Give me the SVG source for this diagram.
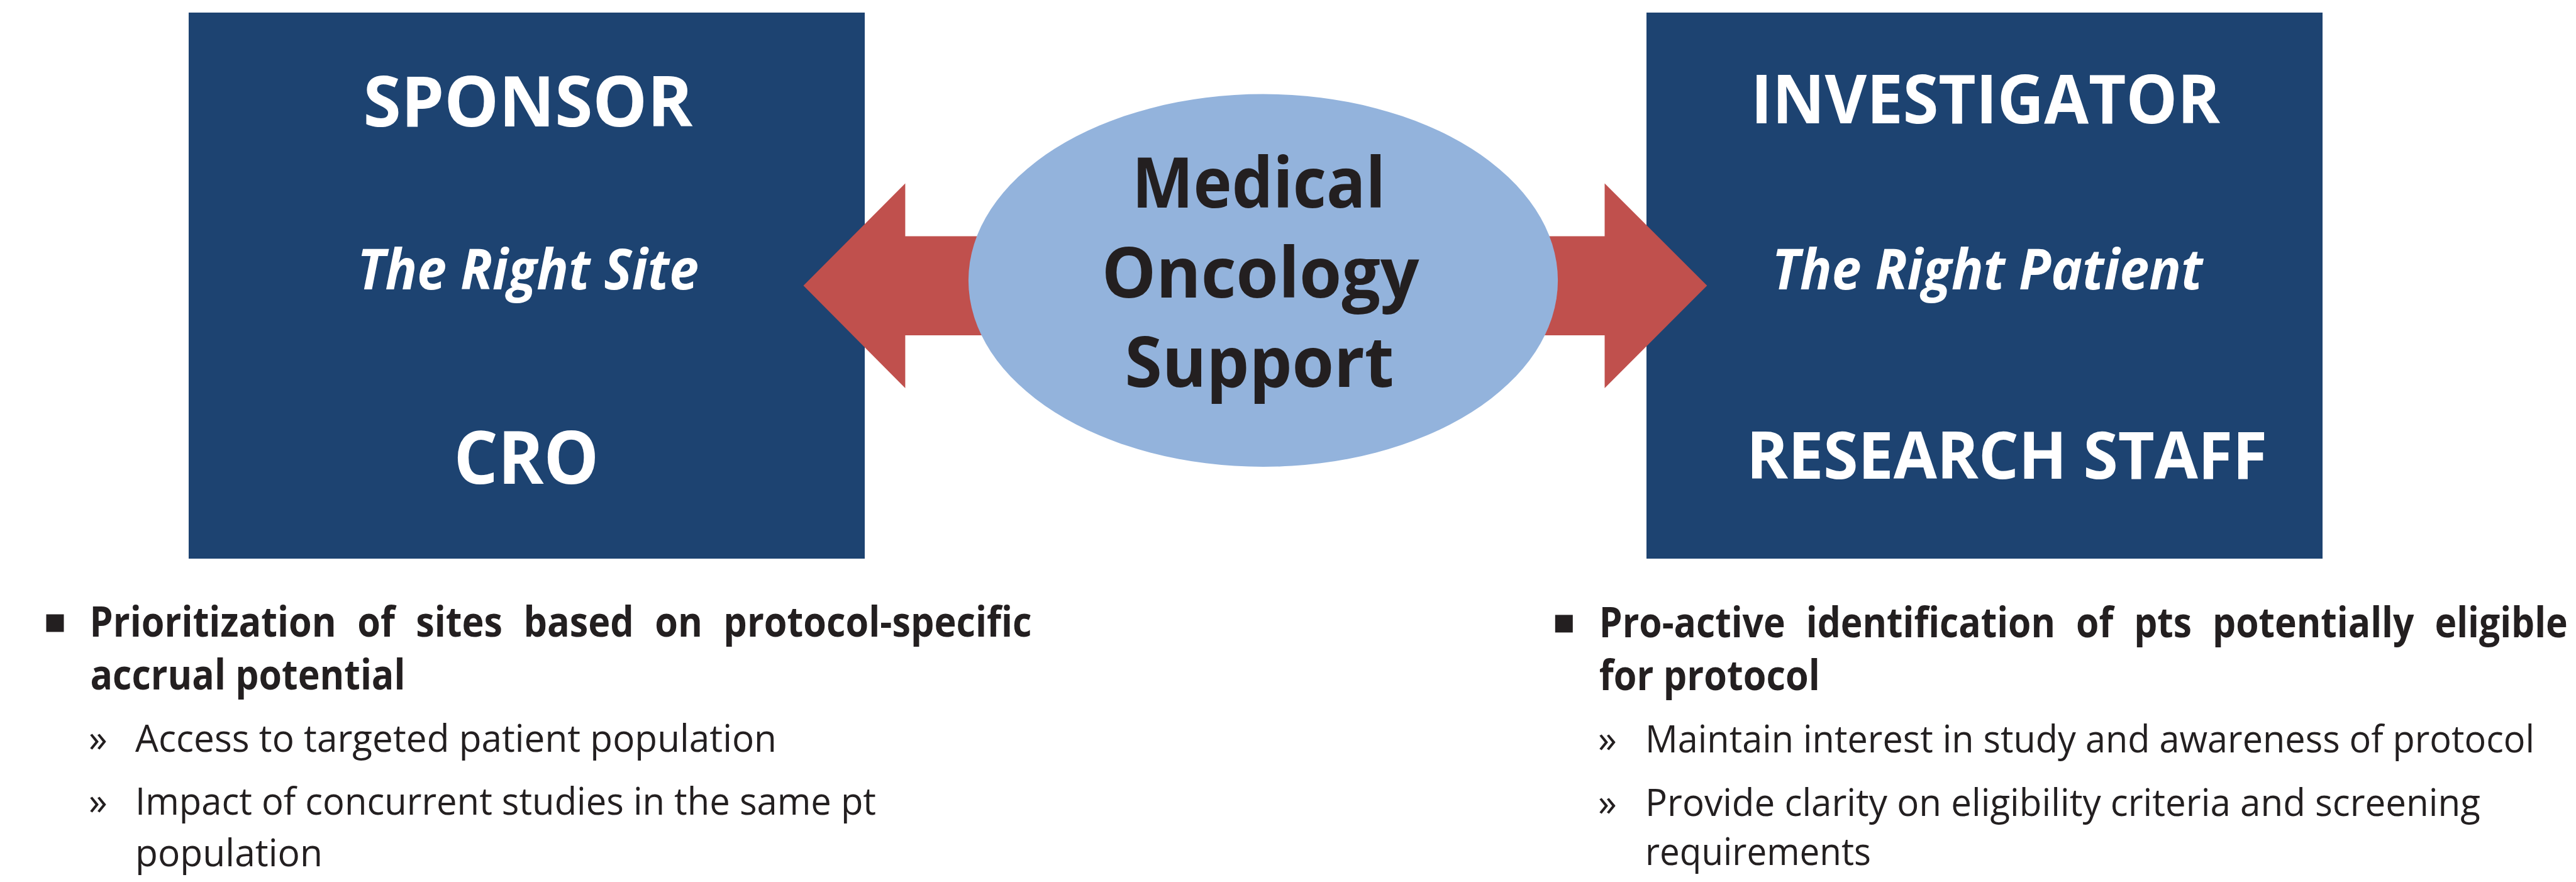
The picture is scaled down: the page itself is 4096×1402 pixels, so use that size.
<svg xmlns="http://www.w3.org/2000/svg" width="4096" height="1402" viewBox="0 0 4096 1402">
  <style>
    .box { fill: #1d4371; }
    .arrow { fill: #c0504d; }
    .hub { fill: #93b3dc; }
    .title { font-family: "Open Sans", "Noto Sans", "Liberation Sans", sans-serif; font-weight: 700; fill: #ffffff; }
    .motto { font-family: "Open Sans", "Noto Sans", "Liberation Sans", sans-serif; font-weight: 700; font-style: italic; fill: #ffffff; font-size: 89px; }
    .hubtext { font-family: "Open Sans", "Noto Sans", "Liberation Sans", sans-serif; font-weight: 700; fill: #231f20; font-size: 112px; }
    .lead { font-family: "Open Sans", "Noto Sans", "Liberation Sans", sans-serif; font-weight: 700; fill: #231f20; font-size: 66px; }
    .sub { font-family: "Open Sans", "Noto Sans", "Liberation Sans", sans-serif; font-weight: 400; fill: #231f20; font-size: 60px; }
    .mark { fill: #231f20; }
  </style>

  <rect width="4096" height="1402" fill="#ffffff"/>

  <!-- Left party -->
  <g id="sponsor">
    <rect class="box" x="300" y="20" width="1075" height="868"/>
    <text class="title" x="577.5" y="201" font-size="112" textLength="524" lengthAdjust="spacingAndGlyphs">SPONSOR</text>
    <text class="motto" x="568" y="460" textLength="543" lengthAdjust="spacingAndGlyphs">The Right Site</text>
    <text class="title" x="721.4" y="769" font-size="116" textLength="231" lengthAdjust="spacingAndGlyphs">CRO</text>
  </g>

  <!-- Right party -->
  <g id="investigator">
    <rect class="box" x="2618" y="20" width="1075" height="868"/>
    <text class="title" x="2784" y="196.4" font-size="108" textLength="746" lengthAdjust="spacingAndGlyphs">INVESTIGATOR</text>
    <text class="motto" x="2817.5" y="460" textLength="685" lengthAdjust="spacingAndGlyphs">The Right Patient</text>
    <text class="title" x="2777" y="760.7" font-size="104" textLength="828" lengthAdjust="spacingAndGlyphs">RESEARCH STAFF</text>
  </g>

  <!-- Block arrows pointing out from the hub -->
  <g id="connectors">
    <polygon class="arrow" points="1277.5,454 1439.4,291.4 1439.4,375.4 1680,375.4 1680,532.9 1439.4,532.9 1439.4,616.9"/>
    <polygon class="arrow" points="2714.3,454 2551.5,291.4 2551.5,375.4 2340,375.4 2340,532.9 2551.5,532.9 2551.5,616.9"/>
  </g>

  <!-- Central hub -->
  <g id="support">
    <ellipse class="hub" cx="2008.5" cy="445.8" rx="468.6" ry="296.2"/>
    <text class="hubtext" x="1800" y="330" textLength="403" lengthAdjust="spacingAndGlyphs">Medical</text>
    <text class="hubtext" x="1751.7" y="472.5" textLength="505" lengthAdjust="spacingAndGlyphs">Oncology</text>
    <text class="hubtext" x="1788.5" y="615" textLength="428" lengthAdjust="spacingAndGlyphs">Support</text>
  </g>

  <!-- Sponsor-side notes -->
  <g id="sponsor-notes">
    <rect class="mark" x="73.5" y="976.5" width="28" height="28"/>
    <text class="lead" x="142.6" y="1012.4" word-spacing="20" textLength="1498" lengthAdjust="spacingAndGlyphs">Prioritization of sites based on protocol-specific</text>
    <text class="lead" x="143.5" y="1096.4" textLength="501" lengthAdjust="spacingAndGlyphs">accrual potential</text>
    <text class="sub" x="141" y="1195.3">»</text>
    <text class="sub" x="215" y="1195.3" textLength="1020" lengthAdjust="spacingAndGlyphs">Access to targeted patient population</text>
    <text class="sub" x="141" y="1295">»</text>
    <text class="sub" x="215" y="1295" textLength="1178" lengthAdjust="spacingAndGlyphs">Impact of concurrent studies in the same pt</text>
    <text class="sub" x="215" y="1377" textLength="298" lengthAdjust="spacingAndGlyphs">population</text>
  </g>

  <!-- Investigator-side notes -->
  <g id="investigator-notes">
    <rect class="mark" x="2472.8" y="977.4" width="28" height="28"/>
    <!-- long justified line: narrowed with a horizontal scale so it stays inside the frame -->
    <text class="lead" transform="translate(2542.8,1013) scale(0.7,1)" x="0" y="0" word-spacing="20" textLength="2200" lengthAdjust="spacingAndGlyphs">Pro-active identification of pts potentially eligible</text>
    <text class="lead" x="2542.8" y="1097" textLength="351" lengthAdjust="spacingAndGlyphs">for protocol</text>
    <text class="sub" x="2541" y="1196">»</text>
    <text class="sub" x="2616" y="1196" textLength="1414" lengthAdjust="spacingAndGlyphs">Maintain interest in study and awareness of protocol</text>
    <text class="sub" x="2541" y="1297">»</text>
    <text class="sub" x="2616" y="1297" textLength="1328" lengthAdjust="spacingAndGlyphs">Provide clarity on eligibility criteria and screening</text>
    <text class="sub" x="2616" y="1375" textLength="359" lengthAdjust="spacingAndGlyphs">requirements</text>
  </g>
</svg>
